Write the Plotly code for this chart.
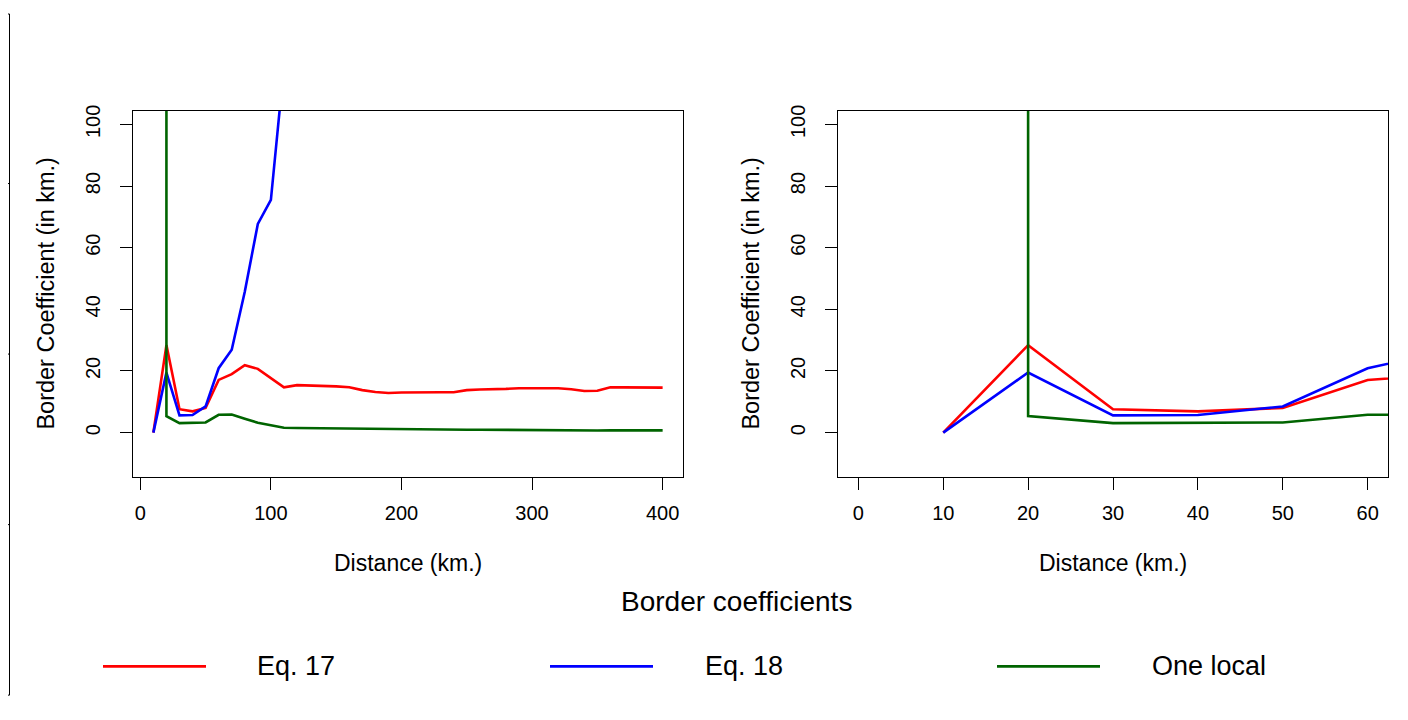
import plotly.graph_objects as go

# ---------------- data ----------------
distance_km = [10, 20, 30, 40, 50, 60, 70, 80, 90, 100,
               110, 120, 130, 140, 150, 160, 170, 180, 190, 200,
               210, 220, 230, 240, 250, 260, 270, 280, 290, 300,
               310, 320, 330, 340, 350, 360, 370, 380, 390, 400]

eq17 = [0.0, 28.4, 7.6, 6.9, 8.0, 17.1, 19.0, 21.9, 20.7, 17.7,
        14.7, 15.4, 15.3, 15.2, 15.0, 14.7, 13.8, 13.2, 12.85, 13.0,
        13.1, 13.1, 13.1, 13.1, 13.8, 14.0, 14.0, 14.2, 14.4, 14.4,
        14.4, 14.4, 14.1, 13.5, 13.6, 14.7, 14.7, 14.6, 14.6, 14.6]

# values beyond 110 km are far above the visible range (unknown)
eq18 = [0.0, 19.5, 5.6, 5.7, 8.5, 20.9, 26.9, 45.7, 67.7, 75.5,
        119.0, None, None, None, None, None, None, None, None, None,
        None, None, None, None, None, None, None, None, None, None,
        None, None, None, None, None, None, None, None, None, None]

# first value is far above the plotted range
one_local = [1.0e6, 5.35, 3.1, 3.1, 3.3, 5.8, 5.9, 4.5, 3.2, 2.4,
             1.6, 1.5, 1.45, 1.4, 1.35, 1.3, 1.2, 1.1, 1.0, 1.0,
             1.0, 0.95, 0.95, 0.9, 0.95, 0.95, 0.9, 0.9, 0.9, 0.85,
             0.85, 0.85, 0.8, 0.7, 0.7, 0.75, 0.75, 0.75, 0.75, 0.75]

series_names = ["Eq. 17", "Eq. 18", "One local"]
series_colors = ["#FF0000", "#0000FF", "#006400"]

left_xticks = [0, 100, 200, 300, 400]
right_xticks = [0, 10, 20, 30, 40, 50, 60]
yticks = [0, 20, 40, 60, 80, 100]

title_text = "Border coefficients"
xlab = "Distance (km.)"
ylab = "Border Coefficient (in km.)"

# ---------------- figure ----------------
# the page body has an 8px margin, so the figure is sized to fit inside
OFF = 8
W, H = 1392, 704
FONT = "Liberation Sans, Arial, Helvetica, sans-serif"

fig = go.Figure()
series = [eq17, eq18, one_local]
for axn in ["", "2"]:
    for name, vals, col in zip(series_names, series, series_colors):
        fig.add_trace(go.Scatter(
            x=distance_km, y=vals, mode="lines", name=name,
            line=dict(color=col, width=2.6), showlegend=False,
            connectgaps=False,
            xaxis="x" + axn, yaxis="y" + axn))


def px_x(p):
    return (p - OFF) / W


def px_y(p):
    return 1 - (p - OFF) / H


left_dom = [px_x(133), px_x(683)]
right_dom = [px_x(838), px_x(1388)]
y_dom = [px_y(475), px_y(105.7)]

axis_common = dict(
    showgrid=False, zeroline=False, showline=True, mirror=True,
    linecolor="black", linewidth=1, ticks="outside", ticklen=12,
    tickwidth=1, tickcolor="black",
    tickfont=dict(family=FONT, size=20, color="black"),
)

fig.update_layout(
    width=W, height=H, autosize=False,
    margin=dict(l=0, r=0, t=0, b=0),
    paper_bgcolor="white", plot_bgcolor="white",
    showlegend=False,
    xaxis=dict(domain=left_dom, range=[-5.6, 415.6], tickvals=left_xticks,
               anchor="y", ticklabelstandoff=6, **axis_common),
    yaxis=dict(domain=y_dom, range=[-14.4, 104.4], tickvals=yticks,
               anchor="x", tickangle=-90, ticklabelstandoff=12, **axis_common),
    xaxis2=dict(domain=right_dom, range=[-2.4, 62.4], tickvals=right_xticks,
                anchor="y2", ticklabelstandoff=6, **axis_common),
    yaxis2=dict(domain=y_dom, range=[-14.4, 104.4], tickvals=yticks,
                anchor="x2", tickangle=-90, ticklabelstandoff=12, **axis_common),
)

annotations = []
# axis titles
for cx in [408, 1113]:
    annotations.append(dict(x=px_x(cx), y=px_y(562), xref="paper", yref="paper",
                            text=xlab, showarrow=False, xanchor="center", yanchor="middle",
                            font=dict(family=FONT, size=23, color="black")))
for cx in [46, 751]:
    annotations.append(dict(x=px_x(cx), y=px_y(290), xref="paper", yref="paper",
                            text=ylab, showarrow=False, xanchor="center", yanchor="middle",
                            textangle=-90,
                            font=dict(family=FONT, size=23.5, color="black")))
# overall title
annotations.append(dict(x=px_x(736), y=px_y(601), xref="paper", yref="paper",
                        text=title_text, showarrow=False, xanchor="center", yanchor="middle",
                        font=dict(family=FONT, size=28, color="black")))

shapes = []
# legend
legend_line_x = [(103, 206), (550, 653), (997, 1100)]
legend_text_x = [255, 703, 1150]
for (x0, x1), tx, name, col in zip(legend_line_x, legend_text_x, series_names, series_colors):
    shapes.append(dict(type="line", xref="paper", yref="paper",
                       x0=px_x(x0), x1=px_x(x1), y0=px_y(666), y1=px_y(666),
                       line=dict(color=col, width=2.6)))
    annotations.append(dict(x=px_x(tx), y=px_y(666), xref="paper", yref="paper",
                            text=name, showarrow=False, xanchor="left", yanchor="middle",
                            font=dict(family=FONT, size=27, color="black")))

# stray outer axis at the far left
shapes.append(dict(type="line", xref="paper", yref="paper",
                   x0=px_x(9.5), x1=px_x(9.5), y0=px_y(8), y1=px_y(695),
                   line=dict(color="black", width=1)))
for ty in [8, 179, 351, 523, 695]:
    shapes.append(dict(type="line", xref="paper", yref="paper",
                       x0=px_x(8), x1=px_x(9.5), y0=px_y(ty), y1=px_y(ty),
                       line=dict(color="black", width=1)))

fig.update_layout(annotations=annotations, shapes=shapes)

fig.write_html("out.html")
